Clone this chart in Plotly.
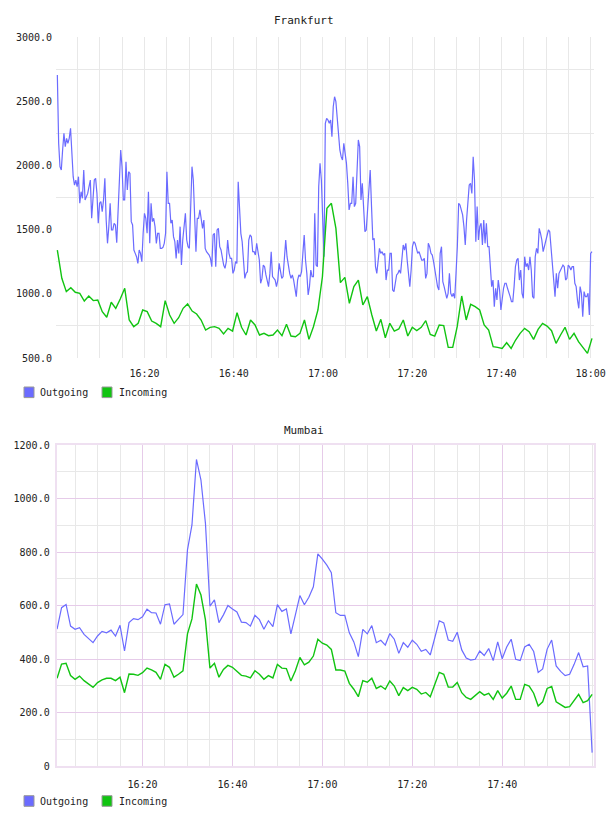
import pandas as pd
import plotly.graph_objects as go

DAY = "2013-01-01 "

# ---------------- Frankfurt ----------------
fra_out = [2704, 2172, 1990, 1964, 2120, 2250, 2146, 2211, 2172, 2211, 2289, 2120, 1912, 1847, 1886, 1834, 1912, 1705, 1795, 1744,
           1964, 1731, 1757, 1782, 1834, 1886, 1588, 1757, 1886, 1899, 1782, 1549, 1705, 1718, 1640, 1731, 1899, 1575, 1393, 1523,
           1705, 1497, 1497, 1549, 1536, 1398, 1601, 1834, 2120, 1990, 1731, 1731, 2029, 1808, 1951, 1938, 1562, 1536, 1341, 1315,
           1289, 1237, 1341, 1315, 1250, 1471, 1627, 1588, 1471, 1795, 1393, 1705, 1562, 1588, 1523, 1393, 1471, 1471, 1354, 1354,
           1362, 1393, 1471, 1951, 1705, 1705, 1549, 1575, 1445, 1406, 1276, 1419, 1315, 1523, 1224, 1419, 1523, 1627, 1419, 1367,
           1354, 1627, 1990, 1886, 1562, 1328, 1588, 1588, 1653, 1575, 1510, 1575, 1354, 1328, 1315, 1302, 1276, 1211, 1458, 1471,
           1211, 1497, 1510, 1367, 1341, 1263, 1224, 1198, 1250, 1419, 1315, 1276, 1276, 1159, 1185, 1250, 1237, 1873, 1679, 1471,
           1406, 1263, 1120, 1159, 1172, 1419, 1458, 1445, 1328, 1328, 1302, 1393, 1315, 1263, 1082, 1120, 1224, 1211, 1147, 1107,
           1056, 1159, 1328, 1134, 1120, 1107, 1056, 1107, 1237, 1159, 1120, 1134, 1263, 1419, 1289, 1211, 1159, 1120, 1147, 1107,
           1043, 978, 1107, 1147, 1134, 1172, 1315, 1458, 1263, 1159, 991, 1056, 1185, 1134, 1134, 1627, 1224, 1211, 1834, 2016,
           1886, 1523, 1289, 2328, 2367, 2354, 2328, 2354, 2224, 2457, 2535, 2496, 2354, 2224, 2120, 2068, 2042, 2172, 2094, 2016,
           1860, 1653, 1705, 1705, 1912, 1679, 1705, 2016, 2198, 2146, 1731, 1860, 1627, 1484, 1497, 1679, 1834, 1964, 1679, 1419,
           1432, 1211, 1159, 1289, 1354, 1315, 1328, 1302, 1315, 1107, 1185, 1185, 1315, 1315, 1030, 1017, 1107, 1147, 1159, 1185,
           1159, 1289, 1380, 1341, 1393, 1263, 1159, 1056, 1185, 1367, 1406, 1393, 1354, 1315, 1328, 1289, 1263, 1263, 1276, 1120,
           1159, 1393, 1367, 1315, 1302, 1250, 1185, 1134, 1056, 1030, 1315, 1367, 1095, 1056, 1004, 965, 1004, 1159, 1004, 978,
           1004, 965, 1159, 1367, 1705, 1692, 1653, 1614, 1523, 1380, 1575, 1731, 1847, 1860, 1782, 2068, 1886, 1406, 1679, 1419,
           1523, 1549, 1380, 1575, 1393, 1549, 1367, 1367, 1185, 1056, 1107, 900, 1043, 952, 1107, 1030, 874, 965, 1043, 1082,
           1082, 1043, 1017, 978, 939, 939, 1056, 1211, 1263, 1276, 1107, 1185, 1004, 965, 1289, 1211, 1237, 1185, 1289, 1185,
           978, 965, 1289, 1354, 1315, 1510, 1471, 1419, 1328, 1367, 1419, 1445, 1497, 1484, 1341, 1211, 1107, 978, 1159, 1043,
           1159, 1185, 1211, 1224, 1211, 1107, 1120, 1224, 1211, 1185, 1211, 1211, 1082, 1056, 952, 887, 1056, 1004, 822, 1017,
           978, 978, 1004, 835, 1315, 1328]

fra_in = [1341, 1121, 1017, 1048, 1012, 1004, 944, 983, 947, 952, 861, 817, 934, 887, 960, 1043, 796, 744, 770, 874,
          861, 788, 770, 744, 947, 835, 770, 814, 887, 921, 866, 843, 796, 718, 739, 744, 731, 687, 731, 710,
          853, 739, 679, 796, 757, 679, 692, 674, 679, 718, 674, 762, 671, 666, 692, 796, 645, 744, 874, 1133,
          1666, 1705, 1510, 1087, 1128, 926, 1056, 1107, 913, 978, 835, 710, 801, 658, 770, 710, 726, 796, 671, 739,
          713, 739, 791, 684, 671, 757, 752, 583, 583, 744, 983, 796, 918, 900, 874, 757, 718, 588, 583, 575,
          619, 575, 640, 692, 731, 705, 645, 723, 770, 749, 713, 614, 679, 739, 645, 692, 627, 580, 536, 653]

# ---------------- Mumbai ----------------
mum_out = [512, 592, 604, 523, 511, 517, 492, 475, 461, 486, 503, 498, 508, 486, 526, 430, 536, 551, 547, 558,
           586, 573, 572, 530, 603, 606, 530, 548, 566, 808, 901, 1146, 1069, 907, 598, 621, 536, 565, 600, 587,
           576, 538, 536, 523, 563, 547, 511, 543, 521, 603, 578, 587, 494, 565, 637, 603, 631, 670, 793, 773,
           751, 723, 573, 563, 563, 498, 464, 409, 511, 494, 525, 461, 470, 452, 495, 474, 421, 461, 444, 470,
           455, 429, 436, 415, 480, 543, 535, 471, 466, 500, 434, 404, 396, 399, 430, 413, 439, 394, 464, 401,
           445, 474, 399, 394, 445, 455, 428, 350, 363, 437, 471, 374, 354, 338, 343, 380, 424, 371, 374, 50]

mum_in = [328, 381, 384, 338, 324, 336, 319, 305, 294, 312, 322, 328, 328, 319, 332, 274, 344, 343, 339, 349,
          366, 359, 350, 324, 380, 369, 332, 343, 356, 494, 550, 680, 639, 546, 366, 384, 332, 361, 376, 369,
          355, 339, 336, 329, 356, 343, 324, 338, 329, 380, 366, 364, 318, 356, 406, 378, 388, 411, 474, 459,
          452, 436, 359, 359, 355, 309, 287, 259, 319, 313, 328, 290, 299, 287, 318, 299, 263, 293, 282, 294,
          287, 269, 275, 259, 305, 350, 343, 295, 295, 312, 274, 256, 249, 264, 278, 265, 272, 249, 282, 254,
          272, 299, 249, 249, 305, 299, 272, 224, 240, 290, 297, 240, 228, 219, 222, 244, 268, 237, 244, 268]

fra_ticks = ["16:20", "16:40", "17:00", "17:20", "17:40", "18:00"]
mum_ticks = ["16:20", "16:40", "17:00", "17:20", "17:40"]
fra_yticks = [500, 1000, 1500, 2000, 2500, 3000]
fra_ytext = ["500.0", "1000.0", "1500.0", "2000.0", "2500.0", "3000.0"]
mum_yticks = [0, 200, 400, 600, 800, 1000, 1200]
mum_ytext = ["0", "200.0", "400.0", "600.0", "800.0", "1000.0", "1200.0"]

BLUE = "#6b6bff"
GREEN = "#11c411"

t_fra_out = pd.date_range(DAY + "16:00:28", DAY + "18:00:18", periods=len(fra_out))
t_fra_in = pd.date_range(DAY + "16:00:28", DAY + "18:00:18", periods=len(fra_in))
t_mum = pd.date_range(DAY + "16:01", periods=len(mum_out), freq="1min")

fig = go.Figure()
fig.add_trace(go.Scatter(x=t_fra_out, y=fra_out, mode="lines", line=dict(color=BLUE, width=1.2),
                         name="Outgoing", showlegend=False, xaxis="x", yaxis="y"))
fig.add_trace(go.Scatter(x=t_fra_in, y=fra_in, mode="lines", line=dict(color=GREEN, width=1.4),
                         name="Incoming", showlegend=False, xaxis="x", yaxis="y"))
fig.add_trace(go.Scatter(x=t_mum, y=mum_out, mode="lines", line=dict(color=BLUE, width=1.2),
                         name="Outgoing", showlegend=False, xaxis="x2", yaxis="y2"))
fig.add_trace(go.Scatter(x=t_mum, y=mum_in, mode="lines", line=dict(color=GREEN, width=1.4),
                         name="Incoming", showlegend=False, xaxis="x2", yaxis="y2"))

W, H = 608, 816
def px(x):
    return x / W
def py(y):
    return 1 - y / H

TICKFONT = dict(family="DejaVu Sans Mono", size=10, color="#222")
GRID = "#e8e8e8"
PURPLE = "#e6cbe9"

fra_minor = [d.strftime("%Y-%m-%d %H:%M") for d in pd.date_range(DAY + "16:00", DAY + "18:00", freq="5min")]
mum_minor = fra_minor

fig.update_layout(
    width=W, height=H, margin=dict(l=0, r=0, t=0, b=0, autoexpand=False),
    paper_bgcolor="white", plot_bgcolor="white", showlegend=False,
    xaxis=dict(domain=[px(56), px(594)], anchor="y", automargin=False,
               range=[DAY + "16:00:10", DAY + "18:00:45"],
               tickmode="array", tickvals=[DAY + t for t in fra_ticks], ticktext=fra_ticks,
               tickfont=TICKFONT, ticks="", showline=False, zeroline=False,
               showgrid=True, gridcolor=GRID, gridwidth=1, ticklabelstandoff=8,
               minor=dict(tickmode="array", tickvals=fra_minor, showgrid=True, gridcolor=GRID, gridwidth=1, ticks="")),
    yaxis=dict(domain=[py(358), py(37)], anchor="x", range=[500, 3000], automargin=False,
               tickmode="array", tickvals=fra_yticks, ticktext=fra_ytext,
               tickfont=TICKFONT, ticks="", showline=False, zeroline=False, showgrid=False,
               ticklabelstandoff=3,
               minor=dict(tickmode="array", tickvals=[750, 1250, 1750, 2250, 2750], showgrid=True,
                          gridcolor=GRID, gridwidth=1, ticks="")),
    xaxis2=dict(domain=[px(56.7), px(594)], anchor="y2", automargin=False,
                range=[DAY + "16:00:55", DAY + "18:00:25"],
                tickmode="array", tickvals=[DAY + t for t in mum_ticks], ticktext=mum_ticks,
                tickfont=TICKFONT, ticks="", zeroline=False,
                showline=True, mirror=True, linecolor="#efe0f1", linewidth=2,
                showgrid=True, gridcolor=PURPLE, gridwidth=1, ticklabelstandoff=8,
                minor=dict(tickmode="array", tickvals=mum_minor, showgrid=True, gridcolor=GRID, gridwidth=1, ticks="")),
    yaxis2=dict(domain=[py(766), py(445)], anchor="x2", range=[0, 1200], automargin=False,
                tickmode="array", tickvals=mum_yticks, ticktext=mum_ytext,
                tickfont=TICKFONT, ticks="", zeroline=False,
                showline=True, mirror=True, linecolor="#efe0f1", linewidth=2,
                showgrid=True, gridcolor=PURPLE, gridwidth=1, ticklabelstandoff=3,
                minor=dict(tickmode="array", tickvals=[100, 300, 500, 700, 900, 1100], showgrid=True,
                           gridcolor=GRID, gridwidth=1, ticks="")),
)

TITLEFONT = dict(family="DejaVu Sans Mono", size=11, color="#222")
LEGFONT = dict(family="DejaVu Sans Mono", size=10, color="#222")
annotations = [
    dict(text="Frankfurt", x=0.5, y=py(20), xref="paper", yref="paper", showarrow=False,
         xanchor="center", yanchor="middle", font=TITLEFONT),
    dict(text="Mumbai", x=0.5, y=py(430), xref="paper", yref="paper", showarrow=False,
         xanchor="center", yanchor="middle", font=TITLEFONT),
]
shapes = []
for yc in (392.3, 801.0):
    for (bx, tx, label, col) in ((24, 38, "Outgoing", BLUE), (102, 117, "Incoming", GREEN)):
        shapes.append(dict(type="rect", xref="paper", yref="paper",
                           x0=px(bx), x1=px(bx + 10), y0=py(yc + 5.3), y1=py(yc - 5.3),
                           fillcolor=col, line=dict(color="#999999", width=1)))
        annotations.append(dict(text=label, x=px(tx), y=py(yc), xref="paper", yref="paper",
                                showarrow=False, xanchor="left", yanchor="middle", font=LEGFONT))
fig.update_layout(annotations=annotations, shapes=shapes)

fig.write_html("out.html", config={"displayModeBar": False},
               post_script="document.body.style.margin='0';document.body.style.overflow='hidden';")
